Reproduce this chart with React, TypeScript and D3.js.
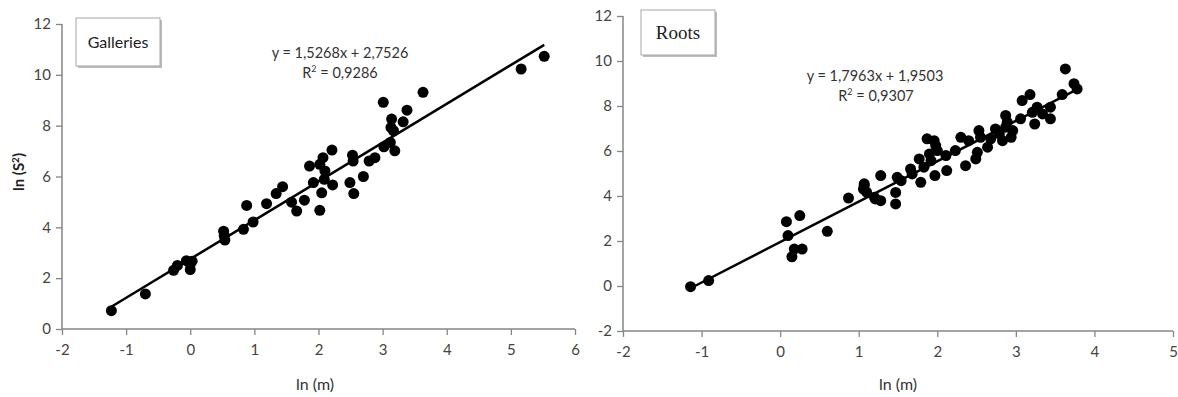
import { useEffect, useRef } from 'react';
import * as d3 from 'd3';

// Galleries: ln(m), ln(S²)
const galleriesX = [-1.23, -0.70, -0.26, -0.20, -0.06, 0.03, 0.0, 0.0, 0.52, 0.54, 0.53, 0.83, 0.88, 0.98, 1.19, 1.34, 1.44, 1.58, 1.66, 1.78, 1.86, 1.92, 2.02, 2.05, 2.02, 2.07, 2.10, 2.09, 2.21, 2.22, 2.49, 2.55, 2.53, 2.54, 2.70, 2.79, 2.88, 3.01, 3.02, 3.12, 3.14, 3.13, 3.17, 3.19, 3.32, 3.38, 3.63, 5.16, 5.52];
const galleriesY = [0.72, 1.38, 2.31, 2.50, 2.69, 2.67, 2.34, 2.55, 3.85, 3.50, 3.68, 3.92, 4.86, 4.21, 4.93, 5.33, 5.60, 4.99, 4.64, 5.07, 6.41, 5.76, 4.67, 5.36, 6.48, 6.74, 6.22, 5.89, 7.04, 5.67, 5.76, 5.33, 6.84, 6.61, 6.00, 6.61, 6.74, 8.92, 7.17, 7.34, 8.26, 7.93, 7.80, 7.01, 8.15, 8.61, 9.31, 10.23, 10.73];

// Roots: ln(m), ln(S²)
const rootsX = [-1.14, -0.91, 0.08, 0.10, 0.25, 0.15, 0.18, 0.28, 0.60, 0.87, 1.07, 1.06, 1.10, 1.21, 1.28, 1.07, 1.20, 1.28, 1.47, 1.47, 1.49, 1.54, 1.66, 1.68, 1.77, 1.79, 1.83, 1.87, 1.90, 1.92, 1.96, 1.97, 2.00, 1.98, 2.11, 2.12, 2.23, 2.30, 2.36, 2.40, 2.49, 2.51, 2.53, 2.55, 2.64, 2.68, 2.74, 2.79, 2.83, 2.87, 2.87, 2.89, 2.94, 2.96, 3.06, 3.08, 3.18, 3.21, 3.24, 3.27, 3.34, 3.44, 3.44, 3.59, 3.63, 3.74, 3.78];
const rootsY = [-0.03, 0.24, 2.86, 2.24, 3.13, 1.30, 1.64, 1.64, 2.43, 3.91, 4.46, 4.31, 4.17, 3.87, 3.79, 4.54, 3.94, 4.91, 3.65, 4.16, 4.83, 4.68, 5.20, 4.98, 5.65, 4.61, 5.28, 6.54, 5.87, 5.57, 6.46, 4.91, 6.02, 6.24, 5.80, 5.13, 6.02, 6.61, 5.35, 6.46, 5.65, 5.94, 6.91, 6.61, 6.17, 6.54, 6.98, 6.76, 6.46, 7.58, 7.06, 7.28, 6.61, 6.91, 7.43, 8.24, 8.51, 7.72, 7.20, 7.95, 7.65, 7.43, 7.95, 8.51, 9.65, 8.99, 8.76];

const xTicksLeft = [-2, -1, 0, 1, 2, 3, 4, 5, 6];
const yTicksLeft = [0, 2, 4, 6, 8, 10, 12];
const xTicksRight = [-2, -1, 0, 1, 2, 3, 4, 5];
const yTicksRight = [-2, 0, 2, 4, 6, 8, 10, 12];

const panels = [
  {
    name: 'Galleries', xs: galleriesX, ys: galleriesY, slope: 1.5268, icpt: 2.7526, fitRange: [-1.25, 5.52],
    eq: 'y = 1,5268x + 2,7526', r2: '0,9286', xDom: [-2, 6], yDom: [0, 12], xTicks: xTicksLeft, yTicks: yTicksLeft,
    left: 62, right: 575, top: 24, bottom: 329, eqX: 340, eqY: 58, r2X: 340, r2Y: 78,
    box: [76, 18, 84, 48], boxFont: 'Lato, sans-serif', boxSize: 16, showYTitle: true, xTitleX: 315,
  },
  {
    name: 'Roots', xs: rootsX, ys: rootsY, slope: 1.7963, icpt: 1.9503, fitRange: [-1.16, 3.73],
    eq: 'y = 1,7963x + 1,9503', r2: '0,9307', xDom: [-2, 5], yDom: [-2, 12], xTicks: xTicksRight, yTicks: yTicksRight,
    left: 623, right: 1173, top: 16, bottom: 331, eqX: 875, eqY: 81, r2X: 876, r2Y: 101,
    box: [641, 10, 74, 45], boxFont: '"Liberation Serif", serif', boxSize: 19, showYTitle: false, xTitleX: 898,
  },
];

export default function App() {
  const ref = useRef<SVGSVGElement>(null);

  useEffect(() => {
    if (!ref.current) return;
    const svg = d3.select(ref.current);
    svg.selectAll('*').remove();
    const font = 'Lato, "Open Sans", sans-serif';

    panels.forEach(p => {
      const x = d3.scaleLinear().domain(p.xDom).range([p.left, p.right]);
      const y = d3.scaleLinear().domain(p.yDom).range([p.bottom, p.top]);
      const g = svg.append('g');

      // axes
      const xAxis = g.append('g')
        .attr('transform', `translate(0,${p.bottom})`)
        .call(d3.axisBottom(x).tickValues(p.xTicks).tickSize(6).tickPadding(9).tickFormat(d => String(d)));
      const yAxis = g.append('g')
        .attr('transform', `translate(${p.left},0)`)
        .call(d3.axisLeft(y).tickValues(p.yTicks).tickSize(6).tickPadding(5).tickFormat(d => String(d)));
      [xAxis, yAxis].forEach(a => {
        a.select('.domain').attr('stroke', '#868686').attr('stroke-width', 1.5);
        a.selectAll('line').attr('stroke', '#868686').attr('stroke-width', 1.3);
        a.selectAll('text').attr('fill', '#444').style('font-family', font).style('font-size', '15px');
      });
      xAxis.select('.domain').attr('d', `M${p.left},0H${p.right}`);
      yAxis.select('.domain').attr('d', `M0,${p.bottom}V${p.top}`);

      // fit line
      g.append('line')
        .attr('x1', x(p.fitRange[0])).attr('y1', y(p.slope * p.fitRange[0] + p.icpt))
        .attr('x2', x(p.fitRange[1])).attr('y2', y(p.slope * p.fitRange[1] + p.icpt))
        .attr('stroke', '#000').attr('stroke-width', 2.5);

      // points
      g.append('g').selectAll('circle')
        .data(p.xs.map((v, i) => [v, p.ys[i]]))
        .enter().append('circle')
        .attr('cx', d => x(d[0])).attr('cy', d => y(d[1]))
        .attr('r', 5.5).attr('fill', '#000');

      // equation
      g.append('text').attr('x', p.eqX).attr('y', p.eqY).attr('text-anchor', 'middle')
        .attr('fill', '#333').style('font-family', font).style('font-size', '14.5px').text(p.eq);
      const r2 = g.append('text').attr('x', p.r2X).attr('y', p.r2Y).attr('text-anchor', 'middle')
        .attr('fill', '#333').style('font-family', font).style('font-size', '14.5px');
      r2.append('tspan').text('R');
      r2.append('tspan').attr('dy', -6).style('font-size', '9px').text('2');
      r2.append('tspan').attr('dy', 6).text(' = ' + p.r2);

      // title box
      const [bx, by, bw, bh] = p.box;
      g.append('rect').attr('x', bx + 2).attr('y', by + 2).attr('width', bw).attr('height', bh)
        .attr('fill', '#bdbdbd');
      g.append('rect').attr('x', bx).attr('y', by).attr('width', bw).attr('height', bh)
        .attr('fill', '#fff').attr('stroke', '#a6a6a6').attr('stroke-width', 1);
      g.append('text').attr('x', bx + bw / 2).attr('y', by + bh / 2 + 6).attr('text-anchor', 'middle')
        .attr('fill', '#222').style('font-family', p.boxFont).style('font-size', `${p.boxSize}px`).text(p.name);

      // axis titles
      g.append('text').attr('x', p.xTitleX).attr('y', 390).attr('text-anchor', 'middle')
        .attr('fill', '#333').style('font-family', font).style('font-size', '16px').text('ln (m)');
      if (p.showYTitle) {
        const t = g.append('text').attr('transform', `translate(24,172) rotate(-90)`).attr('text-anchor', 'middle')
          .attr('fill', '#222').style('font-family', font).style('font-size', '15px').style('font-weight', 'bold');
        t.append('tspan').text('ln (S');
        t.append('tspan').attr('dy', -5).style('font-size', '10px').text('2');
        t.append('tspan').attr('dy', 5).text(')');
      }
    });
  }, []);

  return (
    <div style={{ position: 'fixed', left: 0, top: 0, background: '#fff' }}>
      <svg ref={ref} width={1178} height={397}></svg>
    </div>
  );
}
